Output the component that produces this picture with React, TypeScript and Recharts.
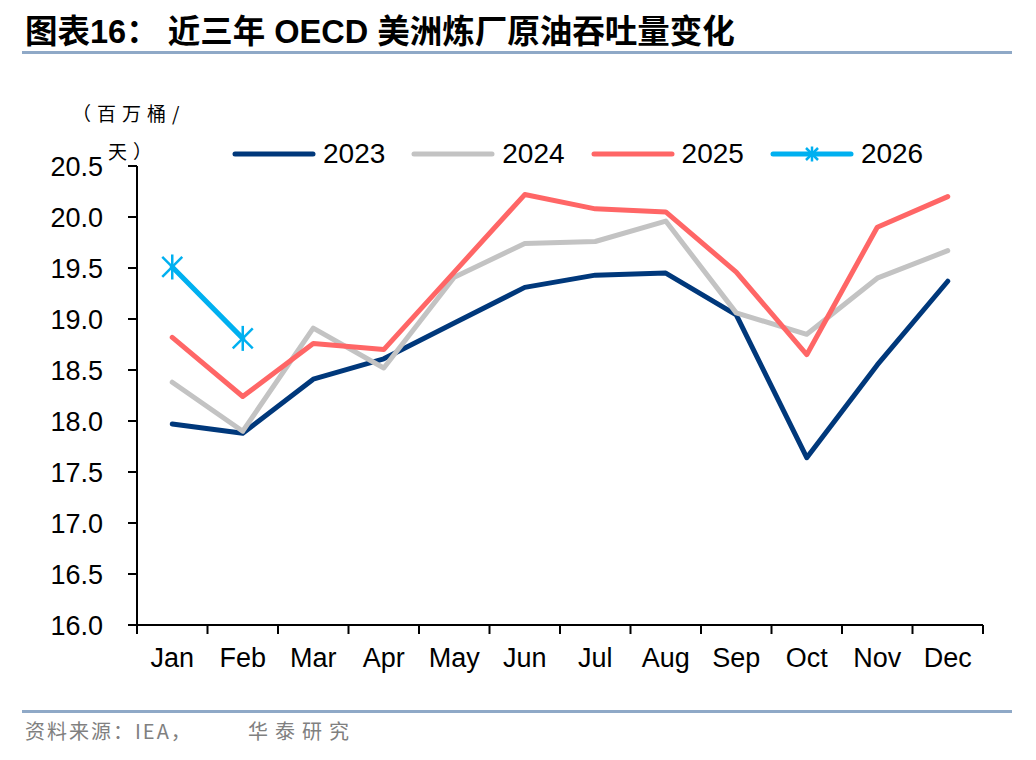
import React from 'react';
import { LineChart, Line, XAxis, YAxis } from 'recharts';

const months = ['Jan', 'Feb', 'Mar', 'Apr', 'May', 'Jun', 'Jul', 'Aug', 'Sep', 'Oct', 'Nov', 'Dec'];
const s2023 = [17.97, 17.88, 18.41, 18.61, 18.96, 19.31, 19.43, 19.45, 19.04, 17.64, 18.55, 19.37];
const s2024 = [18.38, 17.9, 18.91, 18.52, 19.41, 19.74, 19.76, 19.96, 19.06, 18.85, 19.4, 19.67];
const s2025 = [18.82, 18.24, 18.76, 18.7, 19.46, 20.22, 20.08, 20.05, 19.46, 18.65, 19.9, 20.2];
const s2026 = [19.51, 18.81];
const yTicks = [16.0, 16.5, 17.0, 17.5, 18.0, 18.5, 19.0, 19.5, 20.0, 20.5];

const series = [
  { key: 'y2023', name: '2023', color: '#00387B', values: s2023 },
  { key: 'y2024', name: '2024', color: '#C3C3C3', values: s2024 },
  { key: 'y2025', name: '2025', color: '#FF6666', values: s2025 },
  { key: 'y2026', name: '2026', color: '#00B0F0', values: s2026 },
];

const data = months.map((m, i) => {
  const row: Record<string, any> = { m };
  series.forEach((s) => {
    if (i < s.values.length) row[s.key] = s.values[i];
  });
  return row;
});

const W = 1036;
const H = 760;
const MARGIN = { top: 166, right: 53, bottom: 75, left: 0 };
const Y_WIDTH = 137;
const X_HEIGHT = 60;
const BAND = (W - MARGIN.left - MARGIN.right - Y_WIDTH) / months.length;
const X_TICK_MARGIN = 22;
const FONT = "'Liberation Sans', Arial, 'Noto Sans CJK SC', sans-serif";

const Star = ({ cx, cy, r, color }: any) => {
  if (cx == null || cy == null) return null;
  return (
    <g stroke={color} strokeWidth={2.5} strokeLinecap="butt">
      <line x1={cx - r} y1={cy - r} x2={cx + r} y2={cy + r} />
      <line x1={cx - r} y1={cy + r} x2={cx + r} y2={cy - r} />
      <line x1={cx} y1={cy - r * 1.25} x2={cx} y2={cy + r * 1.25} />
    </g>
  );
};

const MonthTick = (props: any) => {
  const { x, y, payload, index } = props;
  const axisY = y - X_TICK_MARGIN;
  return (
    <g>
      <line x1={x - BAND / 2} y1={axisY} x2={x - BAND / 2} y2={axisY + 9} stroke="#000" strokeWidth={2} />
      {index === months.length - 1 && (
        <line x1={x + BAND / 2} y1={axisY} x2={x + BAND / 2} y2={axisY + 9} stroke="#000" strokeWidth={2} />
      )}
      <text x={x} y={y} dy={20} textAnchor="middle" fill="#000" fontSize={27} fontFamily={FONT}>
        {payload.value}
      </text>
    </g>
  );
};

const ChartLegend = () => (
  <div
    style={{
      position: 'absolute', left: 232, top: 139, display: 'flex', alignItems: 'center',
      fontFamily: FONT, fontSize: 28, color: '#000',
    }}
  >
    {series.map((s) => (
      <div key={s.key} style={{ display: 'flex', alignItems: 'center', marginRight: 26 }}>
        <svg width={84} height={24}>
          <line x1={3} y1={12} x2={81} y2={12} stroke={s.color} strokeWidth={5} strokeLinecap="round" />
          {s.key === 'y2026' && <Star cx={42} cy={12} r={6} color={s.color} />}
        </svg>
        <span style={{ marginLeft: 7, lineHeight: '30px' }}>{s.name}</span>
      </div>
    ))}
  </div>
);

export default function App() {
  return (
    <div style={{ position: 'absolute', left: 0, top: 0, width: W, height: H, background: '#fff', overflow: 'hidden' }}>
      <div
        style={{
          position: 'absolute', left: 25, top: 12, fontFamily: FONT, fontWeight: 700, fontSize: 32.5,
          lineHeight: '40px', color: '#000', whiteSpace: 'pre',
        }}
      >
        {'图表16： 近三年 OECD 美洲炼厂原油吞吐量变化'}
      </div>
      <div style={{ position: 'absolute', left: 22, top: 51, width: 990, height: 3, background: '#8FA9C7' }} />

      <div
        style={{
          position: 'absolute', left: 72, top: 94, fontFamily: "'Noto Sans CJK SC', sans-serif", fontSize: 19,
          lineHeight: '38px', letterSpacing: 6, color: '#000', width: 140,
        }}
      >
        （百万桶/<br />
        <span style={{ marginLeft: 36 }}>天）</span>
      </div>

      <div style={{ position: 'absolute', left: 0, top: 0 }}>
        <LineChart width={W} height={H} data={data} margin={MARGIN}>
          <XAxis
            dataKey="m"
            height={X_HEIGHT}
            padding={{ left: BAND / 2, right: BAND / 2 }}
            axisLine={{ stroke: '#000', strokeWidth: 2 }}
            tickLine={false}
            tickSize={0}
            tickMargin={X_TICK_MARGIN}
            interval={0}
            tick={<MonthTick />}
          />
          <YAxis
            width={Y_WIDTH}
            domain={[16, 20.5]}
            ticks={yTicks}
            interval={0}
            allowDataOverflow
            axisLine={{ stroke: '#000', strokeWidth: 2 }}
            tickLine={{ stroke: '#000', strokeWidth: 2 }}
            tickSize={9}
            tickMargin={25}
            tickFormatter={(v: number) => v.toFixed(1)}
            tick={{ fill: '#000', fontSize: 27, fontFamily: FONT }}
          />
          {series.map((s) => (
            <Line
              key={s.key}
              dataKey={s.key}
              name={s.name}
              stroke={s.color}
              strokeWidth={5}
              strokeLinejoin="round"
              strokeLinecap="round"
              isAnimationActive={false}
              dot={s.key === 'y2026' ? (p: any) => <Star key={p.index} cx={p.cx} cy={p.cy} r={10} color={s.color} /> : false}
              activeDot={false}
            />
          ))}
        </LineChart>
      </div>
      <ChartLegend />

      <div style={{ position: 'absolute', left: 22, top: 710, width: 990, height: 3, background: '#8FA9C7' }} />
      <div
        style={{
          position: 'absolute', left: 25, top: 716, fontFamily: "'Noto Sans CJK SC', sans-serif", fontSize: 20,
          lineHeight: '30px', letterSpacing: 2, color: '#808080', whiteSpace: 'pre',
        }}
      >
        <span>资料来源：IEA，</span>
        <span style={{ position: 'absolute', left: 223, top: 0, letterSpacing: 7 }}>华泰研究</span>
      </div>
    </div>
  );
}
